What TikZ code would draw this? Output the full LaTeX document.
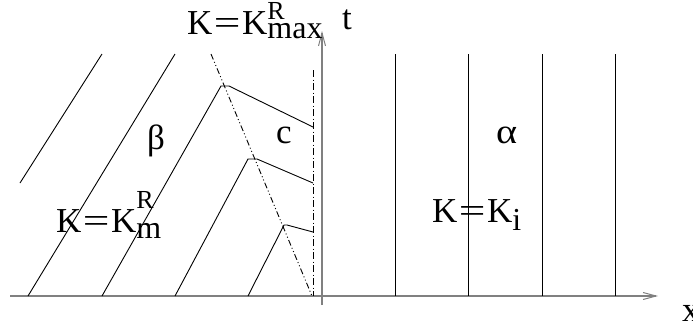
\documentclass[tikz,border=0pt]{standalone}
\usepackage{fontspec}
\setmainfont{Liberation Serif}
\usetikzlibrary{arrows.meta}
\newcommand{\eqw}{\hspace{1.5pt}\scalebox{1.35}[1]{=}\hspace{1.5pt}}
\newcommand{\supfont}{\fontsize{26}{26}\selectfont}
\newcommand{\subfont}{\fontsize{32}{32}\selectfont}
\tikzset{
  thinline/.style={line width=0.9pt, black},
  axis/.style={line width=1.4pt, gray, -{Straight Barb[length=13pt,width=7pt,line width=1pt]}},
  diagdash/.style={thinline, dash pattern=on 6pt off 2.5pt on 1pt off 2.5pt on 1pt off 2.5pt},
  vertdash/.style={thinline, dash pattern=on 7pt off 2.5pt on 1pt off 2.5pt},
  lbl/.style={inner sep=0pt, anchor=base west, font=\fontsize{35}{35}\selectfont}
}
\begin{document}
\begin{tikzpicture}[x=1pt,y=-1pt]
\useasboundingbox (0,0) rectangle (693,325);
% axes
\coordinate (xs) at (10,296);
\coordinate (xe) at (658,296);
\coordinate (ts) at (322,305);
\coordinate (te) at (322,31);
\draw[axis] (xs) -- (xe);
\draw[axis] (ts) -- (te);
% beta region characteristics
\draw[thinline] (102,54) -- (20,183);
\draw[thinline] (175,54) -- (28,296);
\coordinate (k1a) at (221,86); \coordinate (k1b) at (229,86); \coordinate (v1) at (313,127);
\coordinate (k2a) at (248,159); \coordinate (k2b) at (257,159); \coordinate (v2) at (313,183);
\coordinate (k3a) at (284,225); \coordinate (k3b) at (287,225); \coordinate (v3) at (313,232);
\draw[thinline] (102,296) -- (k1a) -- (k1b) -- (v1);
\draw[thinline] (175,296) -- (k2a) -- (k2b) -- (v2);
\draw[thinline] (248,296) -- (k3a) -- (k3b) -- (v3);
% dash-dot lines
\coordinate (ds) at (211,54); \coordinate (de) at (312,296);
\draw[diagdash] (ds) -- (de);
\coordinate (vs) at (313,70); \coordinate (ve) at (313,296);
\draw[vertdash] (vs) -- (ve);
% alpha region
\foreach \xx in {395,468,542,615} \draw[thinline] (\xx,54) -- (\xx,296);
% labels
\node[lbl] (kmax) at (187,34) {K\eqw K\rlap{\raisebox{15pt}{\supfont R}}\raisebox{-4pt}{\subfont max}};
\node[lbl] (tl) at (342,29) {t};
\node[lbl] (xl) at (682,321) {x};
\node[lbl] (beta) at (147,149) {β};
\node[lbl] (cl) at (276,143) {c};
\node[lbl] (alpha) at (496,143) {\scalebox{1.15}[1]{α}};
\node[lbl] (km) at (56,232) {K\eqw K\rlap{\raisebox{24pt}{\supfont R}}\raisebox{-6pt}{\subfont m}};
\node[lbl] (ki) at (432,222) {K\eqw K\raisebox{-8pt}{\subfont i}};
\end{tikzpicture}
\end{document}
